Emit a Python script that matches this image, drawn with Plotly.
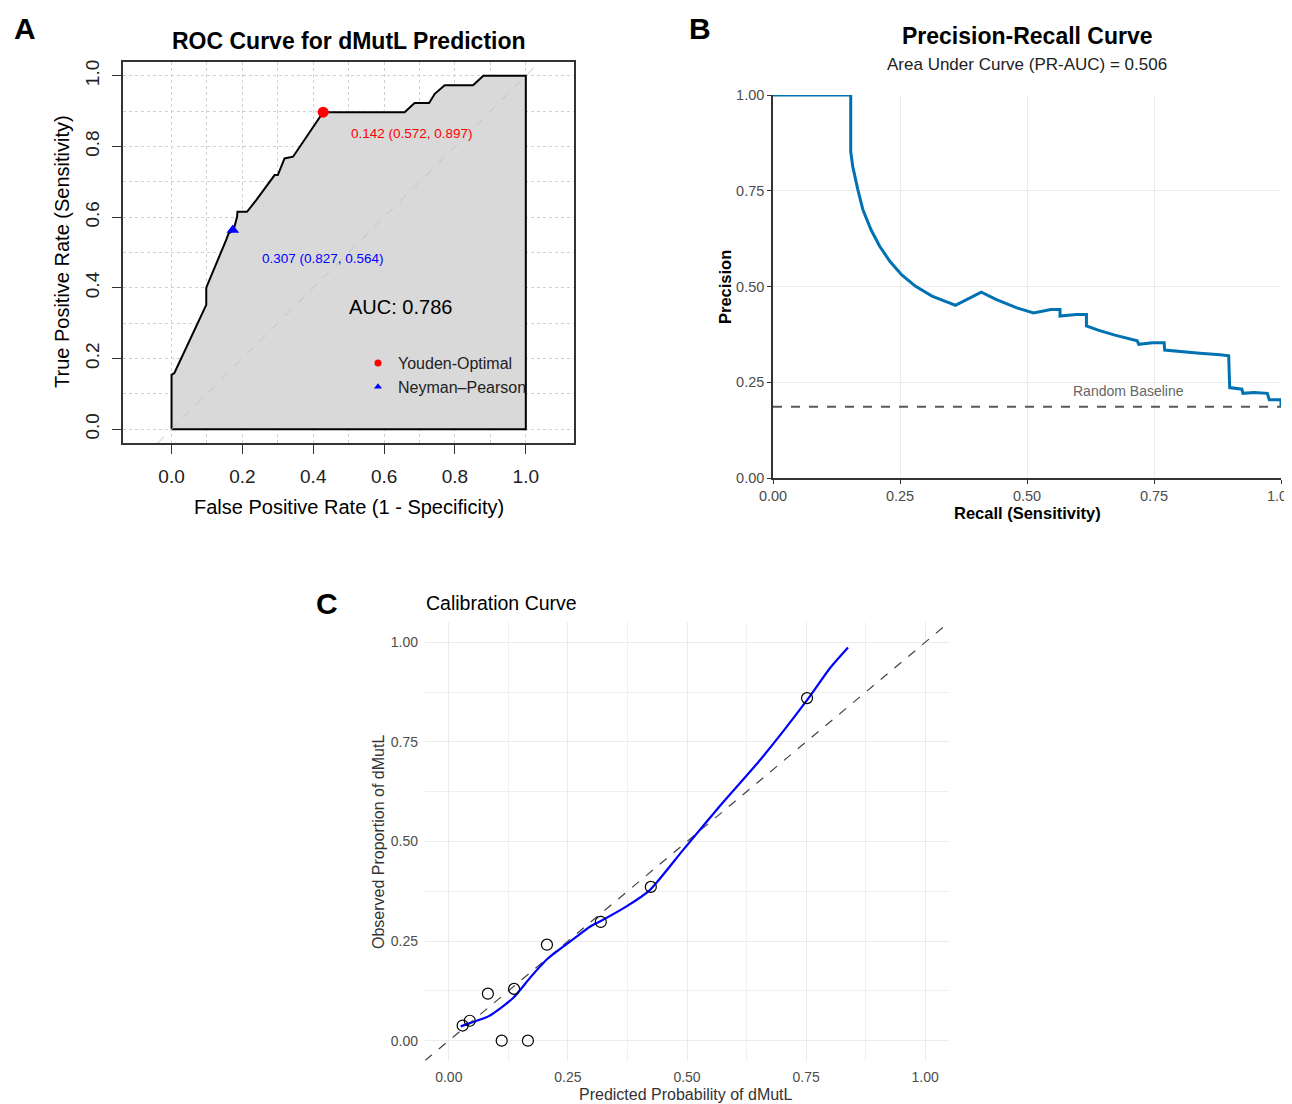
import plotly.graph_objects as go

# ---------------- data ----------------
# Panel A: ROC curve (false positive rate, true positive rate)
roc_fpr = [0.0, 0.0, 0.008, 0.098, 0.098, 0.103, 0.154, 0.161, 0.175, 0.185, 0.186, 0.213, 0.239,
           0.291, 0.300, 0.319, 0.343, 0.428, 0.658, 0.686, 0.727, 0.743, 0.771, 0.851, 0.880, 1.0]
roc_tpr = [0.0, 0.154, 0.159, 0.352, 0.400, 0.413, 0.535, 0.554, 0.563, 0.601, 0.615, 0.615, 0.648,
           0.719, 0.719, 0.766, 0.771, 0.897, 0.897, 0.923, 0.923, 0.949, 0.973, 0.973, 1.0, 1.0]
roc_auc = 0.786
cut_names = ["Youden-Optimal", "Neyman\u2013Pearson"]
cut_threshold = [0.142, 0.307]
cut_specificity = [0.572, 0.827]
cut_sensitivity = [0.897, 0.564]

# Panel B: precision-recall curve
pr_recall = [0.0, 0.153, 0.153, 0.157, 0.167, 0.177, 0.193, 0.210, 0.230, 0.253, 0.280, 0.313, 0.347,
             0.359, 0.410, 0.440, 0.480, 0.513, 0.547, 0.565, 0.565, 0.597, 0.617, 0.617, 0.640,
             0.673, 0.717, 0.720, 0.747, 0.770, 0.771, 0.807, 0.840, 0.880, 0.897, 0.899, 0.923,
             0.925, 0.947, 0.973, 0.977, 1.0, 1.0]
pr_precision = [1.0, 1.0, 0.852, 0.813, 0.753, 0.700, 0.648, 0.605, 0.566, 0.531, 0.501, 0.475, 0.457,
                0.451, 0.485, 0.466, 0.444, 0.431, 0.440, 0.440, 0.423, 0.427, 0.427, 0.397, 0.386,
                0.373, 0.358, 0.349, 0.353, 0.353, 0.334, 0.329, 0.326, 0.322, 0.319, 0.236, 0.232,
                0.221, 0.223, 0.221, 0.204, 0.204, 0.187]
pr_auc = 0.506
pr_baseline = 0.186

# Panel C: calibration
cal_pred = [0.029, 0.044, 0.082, 0.111, 0.137, 0.166, 0.206, 0.319, 0.424, 0.752]
cal_obs = [0.038, 0.050, 0.118, 0.0, 0.130, 0.0, 0.241, 0.298, 0.386, 0.860]
smooth_x = [0.025, 0.044, 0.083, 0.135, 0.170, 0.205, 0.240, 0.268, 0.296, 0.317, 0.373, 0.422,
            0.492, 0.569, 0.653, 0.752, 0.800, 0.838]
smooth_y = [0.036, 0.044, 0.061, 0.107, 0.157, 0.203, 0.236, 0.261, 0.286, 0.299, 0.337, 0.378,
            0.479, 0.589, 0.704, 0.855, 0.935, 0.987]

pr_ticks = [0.0, 0.25, 0.5, 0.75, 1.0]
roc_ticks = [0.0, 0.2, 0.4, 0.6, 0.8, 1.0]
roc_minor = [0.1, 0.3, 0.5, 0.7, 0.9]
cal_minor = [0.125, 0.375, 0.625, 0.875]

# ---------------- layout helpers ----------------
PAGE_W, PAGE_H = 1292, 1104
OFF = 8  # page body margin
W, H = PAGE_W - OFF, PAGE_H - OFF
FONT = "Liberation Sans, Arial, sans-serif"


def fx(p):
    return (p - OFF) / W


def fy(p):
    return 1 - (p - OFF) / H


A_xr = [-0.137, 1.136]
A_yr = [-0.039, 1.039]
C_r = [-0.05, 1.05]

fig = go.Figure()

# ---------------- Panel A ----------------
poly_x = roc_fpr + [roc_fpr[-1], roc_fpr[0]]
poly_y = roc_tpr + [roc_tpr[0], roc_tpr[0]]
fig.add_trace(go.Scatter(x=poly_x, y=poly_y, mode="lines", fill="toself", fillcolor="#D9D9D9",
                         line=dict(color="black", width=2), showlegend=False, hoverinfo="skip",
                         xaxis="x", yaxis="y"))
fig.add_trace(go.Scatter(x=A_yr, y=A_yr, mode="lines", line=dict(color="#C4C4C4", width=1, dash="dash"),
                         showlegend=False, hoverinfo="skip", xaxis="x", yaxis="y"))
cut_colors = ["#FF0000", "#0000FF"]
cut_symbols = ["circle", "triangle-up"]
for i in range(2):
    fig.add_trace(go.Scatter(x=[1 - cut_specificity[i]], y=[cut_sensitivity[i]], mode="markers",
                             marker=dict(color=cut_colors[i], size=11, symbol=cut_symbols[i]),
                             name=cut_names[i], showlegend=False, xaxis="x", yaxis="y"))
    # legend-only entry with a smaller key symbol (as in the reference legend)
    fig.add_trace(go.Scatter(x=[None], y=[None], mode="markers",
                             marker=dict(color=cut_colors[i], size=7, symbol=cut_symbols[i]),
                             name=cut_names[i], showlegend=True, legend="legend",
                             xaxis="x", yaxis="y"))

# ---------------- Panel B ----------------
fig.add_trace(go.Scatter(x=[pr_ticks[0], pr_ticks[-1]], y=[pr_baseline, pr_baseline], mode="lines",
                         line=dict(color="#595959", width=2, dash="dash"), showlegend=False,
                         hoverinfo="skip", xaxis="x2", yaxis="y2"))
fig.add_trace(go.Scatter(x=pr_recall, y=pr_precision, mode="lines",
                         line=dict(color="#0072B2", width=3), showlegend=False,
                         xaxis="x2", yaxis="y2"))

# ---------------- Panel C ----------------
fig.add_trace(go.Scatter(x=C_r, y=C_r, mode="lines", line=dict(color="#444444", width=1.2, dash="dash"),
                         showlegend=False, hoverinfo="skip", xaxis="x3", yaxis="y3"))
fig.add_trace(go.Scatter(x=smooth_x, y=smooth_y, mode="lines", line=dict(color="#0000FF", width=2.2,
                         shape="spline", smoothing=0.6), showlegend=False, xaxis="x3", yaxis="y3"))
fig.add_trace(go.Scatter(x=cal_pred, y=cal_obs, mode="markers",
                         marker=dict(symbol="circle-open", size=11, color="black", line=dict(width=1.2)),
                         showlegend=False, xaxis="x3", yaxis="y3"))

# ---------------- axes ----------------
A_axis_common = dict(showline=True, mirror=True, linecolor="#333333", linewidth=1.5,
                     ticks="outside", ticklen=9, tickcolor="#333333", tickwidth=1.2,
                     tickvals=roc_ticks, tickformat=".1f",
                     tickfont=dict(size=19, color="#222222", family=FONT),
                     showgrid=True, gridcolor="#D0D0D0", griddash="dot", gridwidth=1,
                     zeroline=False, automargin=False,
                     minor=dict(tickvals=roc_minor, showgrid=True, gridcolor="#D0D0D0",
                                griddash="dot", gridwidth=1, ticks=""))
B_axis_common = dict(showline=True, linecolor="#333333", linewidth=1.5, ticks="outside", ticklen=4,
                     tickcolor="#333333", tickvals=pr_ticks, tickformat=".2f",
                     tickfont=dict(size=14.5, color="#4D4D4D", family=FONT), automargin=False,
                     ticklabeloverflow="allow",
                     showgrid=True, gridcolor="#EBEBEB", gridwidth=1, zeroline=False, range=[0, 1])
C_axis_common = dict(showline=False, ticks="", tickvals=pr_ticks, tickformat=".2f",
                     tickfont=dict(size=14, color="#4D4D4D", family=FONT), automargin=False,
                     showgrid=True, gridcolor="#EBEBEB", gridwidth=1.1, zeroline=False, range=C_r,
                     ticklabelstandoff=6,
                     minor=dict(tickvals=cal_minor, showgrid=True, gridcolor="#F0F0F0", gridwidth=0.7))

fig.update_layout(
    width=W, height=H, margin=dict(l=0, r=0, t=0, b=0, autoexpand=False),
    paper_bgcolor="white", plot_bgcolor="white",
    font=dict(family=FONT, color="#222222"),
    xaxis=dict(domain=[fx(123), fx(574)], range=A_xr, anchor="y", ticklabelstandoff=6, **A_axis_common),
    yaxis=dict(domain=[fy(443), fy(62)], range=A_yr, anchor="x", tickangle=-90, ticklabelstandoff=6,
               **A_axis_common),
    xaxis2=dict(domain=[fx(773), fx(1281)], anchor="y2", **B_axis_common),
    yaxis2=dict(domain=[fy(478), fy(95)], anchor="x2", **B_axis_common),
    xaxis3=dict(domain=[fx(425), fx(949)], anchor="y3", **C_axis_common),
    yaxis3=dict(domain=[fy(1060.6), fy(622.4)], anchor="x3", **C_axis_common),
    legend=dict(x=fx(358), y=fy(346), xanchor="left", yanchor="top", bgcolor="rgba(0,0,0,0)",
                font=dict(size=16, color="#222222", family=FONT), itemsizing="trace",
                tracegroupgap=0),
    showlegend=True,
)


def txt(x, y, text, size, color="#222222", bold=False, xanchor="center", angle=0, xref="paper", yref="paper"):
    return dict(x=x, y=y, xref=xref, yref=yref, text=("<b>%s</b>" % text) if bold else text,
                showarrow=False, xanchor=xanchor, yanchor="middle", textangle=angle,
                font=dict(size=size, color=color, family=FONT))


annotations = [
    # panel letters
    txt(fx(25), fy(28), "A", 30, "black", True),
    txt(fx(700), fy(28), "B", 30, "black", True),
    txt(fx(327), fy(604), "C", 30, "black", True),
    # panel A
    txt(fx(349), fy(41), "ROC Curve for dMutL Prediction", 23, "black", True),
    txt(fx(349), fy(507), "False Positive Rate (1 - Specificity)", 20, "black"),
    txt(fx(62), fy(252), "True Positive Rate (Sensitivity)", 20, "black", angle=-90),
    txt(0.647, 0.346, "AUC: %.3f" % roc_auc, 20, "black", xref="x", yref="y"),
    txt(0.678, 0.838, "%.3f (%.3f, %.3f)" % (cut_threshold[0], cut_specificity[0], cut_sensitivity[0]),
        13.5, "#FF0000", xref="x", yref="y"),
    txt(0.427, 0.484, "%.3f (%.3f, %.3f)" % (cut_threshold[1], cut_specificity[1], cut_sensitivity[1]),
        13.5, "#0000FF", xref="x", yref="y"),
    # panel B
    txt(fx(1027), fy(36), "Precision-Recall Curve", 23, "black", True),
    txt(fx(1027), fy(64), "Area Under Curve (PR-AUC) = %.3f" % pr_auc, 17, "#222222"),
    txt(fx(1027), fy(513), "Recall (Sensitivity)", 16.5, "black", True),
    txt(fx(725), fy(287), "Precision", 16.5, "black", True, angle=-90),
    txt(0.70, pr_baseline + 0.042, "Random Baseline", 14, "#666666", xref="x2", yref="y2"),
    # panel C
    txt(fx(424), fy(603), "Calibration Curve", 19.5, "black", xanchor="left"),
    txt(fx(686), fy(1094), "Predicted Probability of dMutL", 16, "#333333"),
    txt(fx(378), fy(842), "Observed Proportion of dMutL", 16, "#333333", angle=-90),
]
fig.update_layout(annotations=annotations)

fig.write_html("out.html")
